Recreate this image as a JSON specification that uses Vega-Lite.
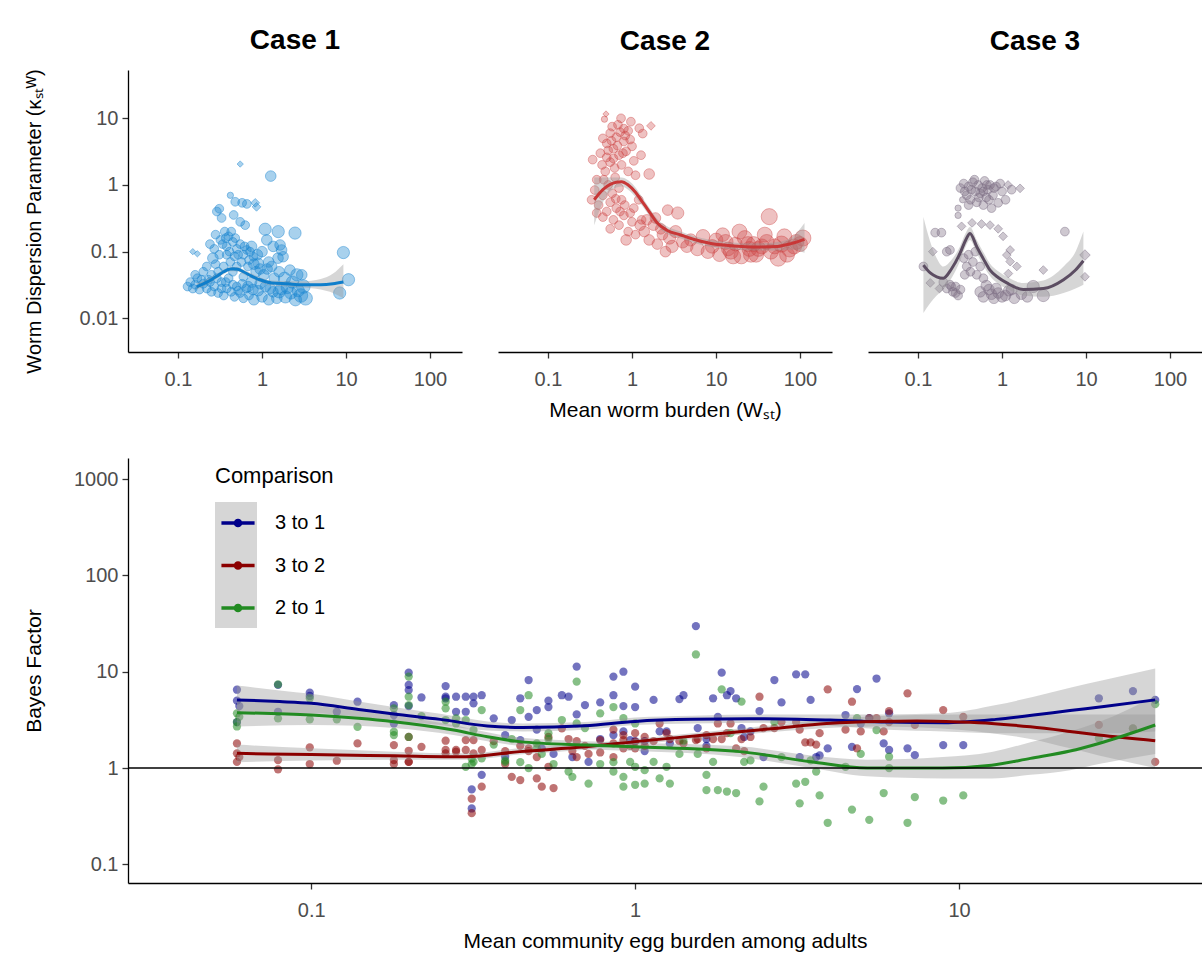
{
"$schema":"https://vega.github.io/schema/vega-lite/v6.json",
"background":"white",
"padding":{"left":23,"top":26,"right":0,"bottom":5},
"config":{
 "font":"Liberation Sans",
 "view":{"stroke":null},
 "axis":{"grid":false,"domainColor":"#000000","domainWidth":1.3,"tickColor":"#333333","tickWidth":1.3,"tickSize":6,"labelColor":"#4D4D4D","labelFontSize":20,"labelFont":"Liberation Sans","titleFont":"Liberation Sans","titleFontSize":21,"titleFontWeight":"normal","titleColor":"#000000"},
 "axisX":{"labelPadding":11,"titlePadding":10},
 "axisY":{"labelPadding":4,"titlePadding":22,"minExtent":62,"maxExtent":62},
 "title":{"fontSize":28,"fontWeight":"bold","color":"#000000","offset":14,"font":"Liberation Sans","frame":"group"}
},
"datasets":{
"case1":[
{"x":0.55,"y":2.06,"pop":1,"grp":"d"},{"x":1.27,"y":1.36,"pop":3,"grp":"c"},{"x":0.42,"y":0.70,"pop":1,"grp":"c"},{"x":0.48,"y":0.56,"pop":2,"grp":"c"},{"x":0.58,"y":0.54,"pop":2,"grp":"c"},{"x":0.66,"y":0.52,"pop":2,"grp":"c"},{"x":0.83,"y":0.54,"pop":2,"grp":"d"},{"x":0.86,"y":0.47,"pop":2,"grp":"d"},{"x":0.29,"y":0.40,"pop":2,"grp":"c"},{"x":0.31,"y":0.44,"pop":2,"grp":"c"},{"x":0.33,"y":0.32,"pop":2,"grp":"c"},{"x":0.46,"y":0.355,"pop":2,"grp":"c"},{"x":0.55,"y":0.28,"pop":2,"grp":"c"},{"x":0.63,"y":0.25,"pop":2,"grp":"c"},{"x":1.09,"y":0.217,"pop":4,"grp":"c"},{"x":1.56,"y":0.20,"pop":4,"grp":"c"},{"x":2.47,"y":0.19,"pop":4,"grp":"c"},{"x":0.15,"y":0.10,"pop":1,"grp":"d"},{"x":0.17,"y":0.093,"pop":1,"grp":"d"},{"x":0.26,"y":0.08,"pop":3,"grp":"c"},{"x":0.24,"y":0.13,"pop":2,"grp":"c"},{"x":0.32,"y":0.15,"pop":2,"grp":"c"},{"x":0.38,"y":0.12,"pop":2,"grp":"c"},{"x":0.36,"y":0.20,"pop":2,"grp":"c"},{"x":0.40,"y":0.17,"pop":2,"grp":"c"},{"x":0.28,"y":0.18,"pop":2,"grp":"c"},{"x":0.45,"y":0.14,"pop":2,"grp":"c"},{"x":0.50,"y":0.11,"pop":2,"grp":"c"},{"x":0.55,"y":0.13,"pop":2,"grp":"c"},{"x":0.66,"y":0.106,"pop":2,"grp":"c"},{"x":0.79,"y":0.084,"pop":2,"grp":"c"},{"x":0.90,"y":0.067,"pop":3,"grp":"c"},{"x":0.60,"y":0.09,"pop":2,"grp":"c"},{"x":0.70,"y":0.075,"pop":2,"grp":"c"},{"x":0.75,"y":0.12,"pop":3,"grp":"c"},{"x":1.14,"y":0.15,"pop":3,"grp":"c"},{"x":1.36,"y":0.12,"pop":3,"grp":"c"},{"x":1.64,"y":0.126,"pop":3,"grp":"c"},{"x":1.71,"y":0.106,"pop":3,"grp":"c"},{"x":1.55,"y":0.08,"pop":3,"grp":"c"},{"x":1.78,"y":0.084,"pop":3,"grp":"c"},{"x":1.00,"y":0.10,"pop":3,"grp":"c"},{"x":1.20,"y":0.07,"pop":3,"grp":"c"},{"x":2.15,"y":0.053,"pop":3,"grp":"c"},{"x":2.60,"y":0.045,"pop":4,"grp":"c"},{"x":2.97,"y":0.045,"pop":3,"grp":"c"},{"x":9.3,"y":0.097,"pop":4,"grp":"c"},{"x":10.7,"y":0.038,"pop":4,"grp":"c"},{"x":8.4,"y":0.024,"pop":4,"grp":"c"},{"x":0.35,"y":0.06,"pop":2,"grp":"c"},{"x":0.42,"y":0.07,"pop":2,"grp":"c"},{"x":0.30,"y":0.05,"pop":2,"grp":"c"},{"x":0.50,"y":0.06,"pop":2,"grp":"c"},{"x":0.25,"y":0.045,"pop":2,"grp":"c"},{"x":0.13,"y":0.030,"pop":2,"grp":"c"},{"x":0.14,"y":0.035,"pop":2,"grp":"c"},{"x":0.15,"y":0.028,"pop":2,"grp":"c"},{"x":0.16,"y":0.032,"pop":2,"grp":"c"},{"x":0.17,"y":0.040,"pop":2,"grp":"c"},{"x":0.18,"y":0.027,"pop":2,"grp":"c"},{"x":0.20,"y":0.033,"pop":2,"grp":"c"},{"x":0.22,"y":0.028,"pop":2,"grp":"c"},{"x":0.23,"y":0.038,"pop":2,"grp":"c"},{"x":0.25,"y":0.025,"pop":2,"grp":"c"},{"x":0.27,"y":0.030,"pop":2,"grp":"c"},{"x":0.30,"y":0.024,"pop":2,"grp":"c"},{"x":0.33,"y":0.035,"pop":2,"grp":"c"},{"x":0.35,"y":0.022,"pop":2,"grp":"c"},{"x":0.38,"y":0.028,"pop":2,"grp":"c"},{"x":0.40,"y":0.040,"pop":2,"grp":"c"},{"x":0.43,"y":0.025,"pop":2,"grp":"c"},{"x":0.47,"y":0.021,"pop":2,"grp":"c"},{"x":0.50,"y":0.030,"pop":2,"grp":"c"},{"x":0.55,"y":0.024,"pop":2,"grp":"c"},{"x":0.60,"y":0.020,"pop":2,"grp":"c"},{"x":0.65,"y":0.028,"pop":2,"grp":"c"},{"x":0.70,"y":0.022,"pop":2,"grp":"c"},{"x":0.75,"y":0.035,"pop":3,"grp":"c"},{"x":0.80,"y":0.019,"pop":3,"grp":"c"},{"x":0.90,"y":0.026,"pop":3,"grp":"c"},{"x":1.00,"y":0.021,"pop":3,"grp":"c"},{"x":1.10,"y":0.030,"pop":3,"grp":"c"},{"x":1.20,"y":0.019,"pop":3,"grp":"c"},{"x":1.35,"y":0.025,"pop":3,"grp":"c"},{"x":1.50,"y":0.020,"pop":3,"grp":"c"},{"x":1.70,"y":0.028,"pop":4,"grp":"c"},{"x":1.90,"y":0.021,"pop":4,"grp":"c"},{"x":2.20,"y":0.024,"pop":4,"grp":"c"},{"x":2.50,"y":0.019,"pop":4,"grp":"c"},{"x":2.90,"y":0.022,"pop":5,"grp":"c"},{"x":3.30,"y":0.020,"pop":5,"grp":"c"},{"x":1.05,"y":0.045,"pop":3,"grp":"c"},{"x":1.40,"y":0.040,"pop":3,"grp":"c"},{"x":0.85,"y":0.050,"pop":3,"grp":"c"},{"x":0.45,"y":0.050,"pop":2,"grp":"c"},{"x":0.20,"y":0.050,"pop":2,"grp":"c"},{"x":0.60,"y":0.042,"pop":2,"grp":"c"},{"x":0.16,"y":0.045,"pop":2,"grp":"c"},{"x":0.28,"y":0.065,"pop":2,"grp":"c"},{"x":0.38,"y":0.09,"pop":2,"grp":"c"},{"x":0.47,"y":0.085,"pop":2,"grp":"c"},
{"x":0.27,"y":0.11,"pop":2,"grp":"c"},{"x":0.31,"y":0.09,"pop":2,"grp":"c"},{"x":0.34,"y":0.13,"pop":2,"grp":"c"},{"x":0.37,"y":0.16,"pop":2,"grp":"c"},{"x":0.41,"y":0.10,"pop":2,"grp":"c"},{"x":0.43,"y":0.20,"pop":2,"grp":"c"},{"x":0.48,"y":0.16,"pop":2,"grp":"c"},{"x":0.52,"y":0.09,"pop":2,"grp":"c"},{"x":0.57,"y":0.07,"pop":2,"grp":"c"},{"x":0.62,"y":0.12,"pop":2,"grp":"c"},{"x":0.68,"y":0.06,"pop":2,"grp":"c"},{"x":0.72,"y":0.10,"pop":2,"grp":"c"},{"x":0.80,"y":0.065,"pop":3,"grp":"c"},{"x":0.88,"y":0.09,"pop":3,"grp":"c"},{"x":0.95,"y":0.055,"pop":3,"grp":"c"},{"x":1.15,"y":0.055,"pop":3,"grp":"c"},{"x":1.30,"y":0.06,"pop":3,"grp":"c"},{"x":1.60,"y":0.05,"pop":3,"grp":"c"},{"x":1.85,"y":0.04,"pop":4,"grp":"c"},{"x":2.30,"y":0.035,"pop":4,"grp":"c"},{"x":0.22,"y":0.06,"pop":2,"grp":"c"},{"x":0.19,"y":0.038,"pop":2,"grp":"c"},{"x":0.24,"y":0.035,"pop":2,"grp":"c"},{"x":0.29,"y":0.04,"pop":2,"grp":"c"},{"x":0.33,"y":0.028,"pop":2,"grp":"c"},{"x":0.37,"y":0.035,"pop":2,"grp":"c"},{"x":0.45,"y":0.032,"pop":2,"grp":"c"},{"x":0.52,"y":0.026,"pop":2,"grp":"c"},{"x":0.58,"y":0.033,"pop":2,"grp":"c"},{"x":0.68,"y":0.030,"pop":3,"grp":"c"},{"x":0.78,"y":0.027,"pop":3,"grp":"c"},{"x":0.95,"y":0.033,"pop":3,"grp":"c"},{"x":1.25,"y":0.028,"pop":3,"grp":"c"},{"x":1.60,"y":0.025,"pop":4,"grp":"c"},{"x":2.00,"y":0.029,"pop":4,"grp":"c"},{"x":2.70,"y":0.026,"pop":4,"grp":"c"},{"x":3.10,"y":0.030,"pop":5,"grp":"c"}
],
"case2":[
{"x":0.49,"y":11.6,"pop":1,"grp":"d"},{"x":0.47,"y":9.7,"pop":1,"grp":"c"},{"x":0.74,"y":10.0,"pop":2,"grp":"c"},{"x":0.97,"y":8.9,"pop":2,"grp":"c"},{"x":1.68,"y":7.7,"pop":2,"grp":"d"},{"x":1.34,"y":5.9,"pop":2,"grp":"c"},{"x":1.22,"y":7.1,"pop":2,"grp":"c"},{"x":0.34,"y":2.4,"pop":2,"grp":"c"},{"x":1.6,"y":1.46,"pop":3,"grp":"c"},{"x":1.28,"y":2.8,"pop":2,"grp":"c"},{"x":0.45,"y":5.0,"pop":2,"grp":"c"},{"x":0.50,"y":4.2,"pop":2,"grp":"c"},{"x":0.55,"y":6.0,"pop":2,"grp":"c"},{"x":0.60,"y":3.5,"pop":2,"grp":"c"},{"x":0.65,"y":5.2,"pop":2,"grp":"c"},{"x":0.70,"y":2.8,"pop":2,"grp":"c"},{"x":0.80,"y":4.5,"pop":2,"grp":"c"},{"x":0.85,"y":3.2,"pop":2,"grp":"c"},{"x":0.90,"y":6.5,"pop":2,"grp":"c"},{"x":1.00,"y":3.8,"pop":2,"grp":"c"},{"x":0.50,"y":2.6,"pop":2,"grp":"c"},{"x":0.55,"y":2.2,"pop":2,"grp":"c"},{"x":0.62,"y":1.8,"pop":2,"grp":"c"},{"x":0.75,"y":2.0,"pop":2,"grp":"c"},{"x":0.90,"y":1.6,"pop":2,"grp":"c"},{"x":1.05,"y":2.3,"pop":2,"grp":"c"},{"x":0.42,"y":3.0,"pop":2,"grp":"c"},{"x":0.48,"y":1.6,"pop":2,"grp":"c"},{"x":1.10,"y":1.4,"pop":2,"grp":"c"},{"x":0.58,"y":7.5,"pop":2,"grp":"c"},{"x":0.68,"y":8.0,"pop":2,"grp":"c"},{"x":0.80,"y":7.0,"pop":2,"grp":"c"},{"x":0.36,"y":0.84,"pop":2,"grp":"c"},{"x":0.33,"y":0.60,"pop":2,"grp":"c"},{"x":0.40,"y":0.50,"pop":2,"grp":"c"},{"x":0.45,"y":0.70,"pop":2,"grp":"c"},{"x":0.50,"y":0.40,"pop":2,"grp":"c"},{"x":0.55,"y":0.55,"pop":2,"grp":"c"},{"x":0.60,"y":0.30,"pop":2,"grp":"c"},{"x":0.65,"y":0.45,"pop":2,"grp":"c"},{"x":0.70,"y":0.25,"pop":2,"grp":"c"},{"x":0.75,"y":0.60,"pop":2,"grp":"c"},{"x":0.80,"y":0.35,"pop":2,"grp":"c"},{"x":0.90,"y":0.20,"pop":2,"grp":"c"},{"x":1.00,"y":0.28,"pop":2,"grp":"c"},{"x":1.10,"y":0.18,"pop":2,"grp":"c"},{"x":0.45,"y":0.33,"pop":2,"grp":"c"},{"x":0.38,"y":0.38,"pop":2,"grp":"c"},{"x":0.55,"y":0.22,"pop":2,"grp":"c"},{"x":0.85,"y":0.15,"pop":3,"grp":"c"},{"x":0.70,"y":0.90,"pop":2,"grp":"c"},{"x":1.20,"y":0.60,"pop":2,"grp":"c"},{"x":1.40,"y":0.20,"pop":3,"grp":"c"},{"x":1.60,"y":0.15,"pop":3,"grp":"c"},{"x":1.80,"y":0.25,"pop":3,"grp":"c"},{"x":2.00,"y":0.13,"pop":3,"grp":"c"},{"x":2.30,"y":0.18,"pop":3,"grp":"c"},{"x":2.66,"y":0.42,"pop":3,"grp":"c"},{"x":3.50,"y":0.38,"pop":4,"grp":"c"},{"x":3.00,"y":0.12,"pop":4,"grp":"c"},{"x":2.50,"y":0.10,"pop":3,"grp":"c"},{"x":4.00,"y":0.14,"pop":4,"grp":"c"},{"x":1.30,"y":0.30,"pop":2,"grp":"c"},{"x":1.90,"y":0.32,"pop":3,"grp":"c"},{"x":5,"y":0.15,"pop":4,"grp":"c"},{"x":6,"y":0.11,"pop":5,"grp":"c"},{"x":7,"y":0.17,"pop":5,"grp":"c"},{"x":9,"y":0.12,"pop":5,"grp":"c"},{"x":11,"y":0.09,"pop":5,"grp":"c"},{"x":13,"y":0.14,"pop":6,"grp":"c"},{"x":15,"y":0.10,"pop":6,"grp":"c"},{"x":17,"y":0.13,"pop":5,"grp":"c"},{"x":20,"y":0.085,"pop":6,"grp":"c"},{"x":22,"y":0.16,"pop":6,"grp":"c"},{"x":25,"y":0.11,"pop":6,"grp":"c"},{"x":28,"y":0.13,"pop":6,"grp":"c"},{"x":30,"y":0.09,"pop":6,"grp":"c"},{"x":35,"y":0.12,"pop":6,"grp":"c"},{"x":43,"y":0.335,"pop":7,"grp":"c"},{"x":45,"y":0.10,"pop":6,"grp":"c"},{"x":55,"y":0.08,"pop":7,"grp":"c"},{"x":60,"y":0.13,"pop":7,"grp":"c"},{"x":75,"y":0.11,"pop":7,"grp":"c"},{"x":90,"y":0.14,"pop":6,"grp":"c"},{"x":108,"y":0.16,"pop":7,"grp":"c"},{"x":12,"y":0.18,"pop":5,"grp":"c"},{"x":19,"y":0.20,"pop":6,"grp":"c"},{"x":38,"y":0.18,"pop":6,"grp":"c"},{"x":65,"y":0.17,"pop":6,"grp":"c"},{"x":0.38,"y":1.2,"pop":2,"grp":"c"},{"x":0.52,"y":1.0,"pop":2,"grp":"c"},{"x":0.63,"y":1.3,"pop":2,"grp":"c"},
{"x":0.44,"y":2.0,"pop":2,"grp":"c"},{"x":0.52,"y":3.3,"pop":2,"grp":"c"},{"x":0.57,"y":4.6,"pop":2,"grp":"c"},{"x":0.60,"y":2.5,"pop":2,"grp":"c"},{"x":0.67,"y":3.9,"pop":2,"grp":"c"},{"x":0.72,"y":6.2,"pop":2,"grp":"c"},{"x":0.78,"y":3.0,"pop":2,"grp":"c"},{"x":0.83,"y":5.5,"pop":2,"grp":"c"},{"x":0.95,"y":4.8,"pop":2,"grp":"c"},{"x":0.46,"y":1.2,"pop":2,"grp":"c"},{"x":0.58,"y":0.75,"pop":2,"grp":"c"},{"x":0.64,"y":0.62,"pop":2,"grp":"c"},{"x":0.72,"y":0.40,"pop":2,"grp":"c"},{"x":0.82,"y":0.50,"pop":2,"grp":"c"},{"x":0.95,"y":0.38,"pop":2,"grp":"c"},{"x":1.05,"y":0.45,"pop":2,"grp":"c"},{"x":1.25,"y":0.25,"pop":3,"grp":"c"},{"x":1.50,"y":0.30,"pop":3,"grp":"c"},{"x":2.20,"y":0.22,"pop":3,"grp":"c"},{"x":2.80,"y":0.16,"pop":4,"grp":"c"},{"x":3.30,"y":0.20,"pop":4,"grp":"c"},{"x":4.50,"y":0.12,"pop":4,"grp":"c"},{"x":8,"y":0.10,"pop":5,"grp":"c"},{"x":10,"y":0.15,"pop":5,"grp":"c"},{"x":14,"y":0.11,"pop":5,"grp":"c"},{"x":16,"y":0.085,"pop":6,"grp":"c"},{"x":24,"y":0.13,"pop":6,"grp":"c"},{"x":26,"y":0.09,"pop":6,"grp":"c"},{"x":32,"y":0.11,"pop":6,"grp":"c"},{"x":40,"y":0.14,"pop":6,"grp":"c"},{"x":50,"y":0.12,"pop":6,"grp":"c"},{"x":70,"y":0.09,"pop":6,"grp":"c"},{"x":85,"y":0.12,"pop":6,"grp":"c"},{"x":100,"y":0.13,"pop":6,"grp":"c"}
],
"case3":[
{"x":0.32,"y":0.90,"pop":2,"grp":"c"},{"x":0.35,"y":1.05,"pop":2,"grp":"c"},{"x":0.38,"y":0.70,"pop":2,"grp":"c"},{"x":0.40,"y":0.95,"pop":2,"grp":"c"},{"x":0.42,"y":0.60,"pop":2,"grp":"c"},{"x":0.45,"y":1.10,"pop":2,"grp":"c"},{"x":0.48,"y":0.80,"pop":2,"grp":"c"},{"x":0.50,"y":0.55,"pop":2,"grp":"c"},{"x":0.52,"y":1.00,"pop":2,"grp":"c"},{"x":0.55,"y":0.75,"pop":2,"grp":"c"},{"x":0.58,"y":0.90,"pop":2,"grp":"c"},{"x":0.62,"y":1.15,"pop":2,"grp":"c"},{"x":0.65,"y":0.65,"pop":2,"grp":"c"},{"x":0.68,"y":0.85,"pop":2,"grp":"c"},{"x":0.72,"y":1.00,"pop":2,"grp":"c"},{"x":0.78,"y":0.70,"pop":2,"grp":"c"},{"x":0.85,"y":0.95,"pop":2,"grp":"c"},{"x":0.90,"y":0.54,"pop":2,"grp":"c"},{"x":1.00,"y":0.80,"pop":2,"grp":"c"},{"x":1.18,"y":1.00,"pop":2,"grp":"d"},{"x":1.30,"y":0.85,"pop":2,"grp":"c"},{"x":1.64,"y":0.89,"pop":2,"grp":"d"},{"x":0.30,"y":0.45,"pop":1,"grp":"c"},{"x":0.34,"y":0.60,"pop":1,"grp":"c"},{"x":0.30,"y":0.35,"pop":1,"grp":"c"},{"x":0.60,"y":0.50,"pop":2,"grp":"c"},{"x":0.75,"y":0.45,"pop":2,"grp":"c"},{"x":1.10,"y":0.60,"pop":2,"grp":"c"},{"x":0.16,"y":0.193,"pop":2,"grp":"c"},{"x":0.19,"y":0.193,"pop":2,"grp":"c"},{"x":0.33,"y":0.24,"pop":2,"grp":"d"},{"x":0.44,"y":0.27,"pop":2,"grp":"d"},{"x":0.57,"y":0.26,"pop":2,"grp":"d"},{"x":0.72,"y":0.25,"pop":2,"grp":"d"},{"x":0.90,"y":0.22,"pop":2,"grp":"d"},{"x":1.03,"y":0.17,"pop":2,"grp":"d"},{"x":5.6,"y":0.20,"pop":2,"grp":"c"},{"x":0.15,"y":0.10,"pop":2,"grp":"d"},{"x":0.22,"y":0.10,"pop":2,"grp":"c"},{"x":0.24,"y":0.106,"pop":2,"grp":"c"},{"x":1.25,"y":0.106,"pop":2,"grp":"d"},{"x":1.14,"y":0.089,"pop":2,"grp":"d"},{"x":1.25,"y":0.071,"pop":2,"grp":"d"},{"x":1.50,"y":0.060,"pop":2,"grp":"d"},{"x":1.19,"y":0.047,"pop":2,"grp":"d"},{"x":3.1,"y":0.053,"pop":2,"grp":"d"},{"x":9.7,"y":0.089,"pop":3,"grp":"d"},{"x":9.7,"y":0.042,"pop":2,"grp":"d"},{"x":0.116,"y":0.06,"pop":2,"grp":"c"},{"x":0.14,"y":0.034,"pop":2,"grp":"d"},{"x":0.18,"y":0.028,"pop":2,"grp":"d"},{"x":0.20,"y":0.035,"pop":2,"grp":"c"},{"x":0.22,"y":0.028,"pop":2,"grp":"c"},{"x":0.24,"y":0.032,"pop":2,"grp":"c"},{"x":0.26,"y":0.025,"pop":2,"grp":"c"},{"x":0.28,"y":0.030,"pop":2,"grp":"c"},{"x":0.30,"y":0.022,"pop":2,"grp":"c"},{"x":0.32,"y":0.027,"pop":2,"grp":"c"},{"x":0.35,"y":0.08,"pop":2,"grp":"c"},{"x":0.38,"y":0.06,"pop":2,"grp":"c"},{"x":0.40,"y":0.09,"pop":2,"grp":"c"},{"x":0.42,"y":0.05,"pop":2,"grp":"c"},{"x":0.45,"y":0.07,"pop":2,"grp":"c"},{"x":0.50,"y":0.045,"pop":2,"grp":"c"},{"x":0.55,"y":0.06,"pop":2,"grp":"c"},{"x":0.60,"y":0.04,"pop":2,"grp":"c"},{"x":0.36,"y":0.045,"pop":2,"grp":"c"},{"x":0.48,"y":0.10,"pop":2,"grp":"c"},{"x":0.55,"y":0.025,"pop":3,"grp":"c"},{"x":0.60,"y":0.021,"pop":3,"grp":"c"},{"x":0.70,"y":0.027,"pop":3,"grp":"c"},{"x":0.80,"y":0.020,"pop":3,"grp":"c"},{"x":0.90,"y":0.024,"pop":3,"grp":"c"},{"x":1.00,"y":0.021,"pop":3,"grp":"c"},{"x":1.20,"y":0.026,"pop":3,"grp":"c"},{"x":1.40,"y":0.020,"pop":3,"grp":"c"},{"x":1.70,"y":0.023,"pop":3,"grp":"c"},{"x":2.00,"y":0.021,"pop":3,"grp":"c"},{"x":2.35,"y":0.030,"pop":4,"grp":"c"},{"x":3.10,"y":0.022,"pop":4,"grp":"c"},{"x":0.65,"y":0.031,"pop":3,"grp":"c"},
{"x":0.36,"y":0.80,"pop":2,"grp":"c"},{"x":0.43,"y":0.85,"pop":2,"grp":"c"},{"x":0.47,"y":1.20,"pop":2,"grp":"c"},{"x":0.53,"y":0.65,"pop":2,"grp":"c"},{"x":0.60,"y":0.80,"pop":2,"grp":"c"},{"x":0.66,"y":1.00,"pop":2,"grp":"c"},{"x":0.70,"y":0.60,"pop":2,"grp":"c"},{"x":0.80,"y":0.90,"pop":2,"grp":"c"},{"x":0.95,"y":1.05,"pop":2,"grp":"c"},{"x":0.40,"y":0.50,"pop":2,"grp":"c"},{"x":0.75,"y":0.023,"pop":3,"grp":"c"},{"x":0.85,"y":0.028,"pop":3,"grp":"c"},{"x":1.10,"y":0.022,"pop":3,"grp":"c"},{"x":1.30,"y":0.027,"pop":3,"grp":"c"},{"x":0.25,"y":0.030,"pop":2,"grp":"c"},{"x":0.28,"y":0.024,"pop":2,"grp":"c"}
],
"fit1":[
{"x":0.167,"fit":0.030,"lo":0.027,"hi":0.034},{"x":0.2,"fit":0.033,"lo":0.030,"hi":0.036},{"x":0.25,"fit":0.038,"lo":0.035,"hi":0.042},{"x":0.3,"fit":0.044,"lo":0.041,"hi":0.048},{"x":0.35,"fit":0.050,"lo":0.046,"hi":0.054},{"x":0.42,"fit":0.055,"lo":0.051,"hi":0.059},{"x":0.5,"fit":0.055,"lo":0.051,"hi":0.059},{"x":0.6,"fit":0.050,"lo":0.046,"hi":0.054},{"x":0.75,"fit":0.043,"lo":0.040,"hi":0.047},{"x":1.0,"fit":0.037,"lo":0.034,"hi":0.040},{"x":1.3,"fit":0.034,"lo":0.031,"hi":0.037},{"x":2,"fit":0.033,"lo":0.030,"hi":0.036},{"x":3,"fit":0.032,"lo":0.029,"hi":0.036},{"x":5,"fit":0.032,"lo":0.027,"hi":0.039},{"x":7,"fit":0.033,"lo":0.024,"hi":0.047},{"x":9.3,"fit":0.035,"lo":0.020,"hi":0.065}
],
"fit2":[
{"x":0.355,"fit":0.60,"lo":0.25,"hi":1.3},{"x":0.45,"fit":0.85,"lo":0.55,"hi":1.3},{"x":0.55,"fit":1.02,"lo":0.8,"hi":1.3},{"x":0.65,"fit":1.1,"lo":0.92,"hi":1.3},{"x":0.75,"fit":1.12,"lo":0.95,"hi":1.3},{"x":0.9,"fit":1.0,"lo":0.85,"hi":1.18},{"x":1.1,"fit":0.78,"lo":0.66,"hi":0.92},{"x":1.3,"fit":0.58,"lo":0.5,"hi":0.68},{"x":1.6,"fit":0.40,"lo":0.35,"hi":0.46},{"x":2.0,"fit":0.27,"lo":0.24,"hi":0.31},{"x":2.6,"fit":0.21,"lo":0.185,"hi":0.24},{"x":3.8,"fit":0.178,"lo":0.158,"hi":0.2},{"x":5.5,"fit":0.152,"lo":0.135,"hi":0.17},{"x":8.7,"fit":0.133,"lo":0.118,"hi":0.15},{"x":14,"fit":0.124,"lo":0.11,"hi":0.14},{"x":22,"fit":0.119,"lo":0.105,"hi":0.134},{"x":35,"fit":0.118,"lo":0.104,"hi":0.134},{"x":54,"fit":0.12,"lo":0.104,"hi":0.14},{"x":80,"fit":0.133,"lo":0.108,"hi":0.165},{"x":113,"fit":0.153,"lo":0.096,"hi":0.27}
],
"fit3":[
{"x":0.116,"fit":0.063,"lo":0.012,"hi":0.33},{"x":0.14,"fit":0.048,"lo":0.017,"hi":0.14},{"x":0.167,"fit":0.042,"lo":0.022,"hi":0.08},{"x":0.2,"fit":0.040,"lo":0.027,"hi":0.06},{"x":0.25,"fit":0.055,"lo":0.04,"hi":0.075},{"x":0.316,"fit":0.094,"lo":0.072,"hi":0.12},{"x":0.37,"fit":0.15,"lo":0.12,"hi":0.19},{"x":0.416,"fit":0.188,"lo":0.15,"hi":0.235},{"x":0.5,"fit":0.119,"lo":0.095,"hi":0.15},{"x":0.6,"fit":0.078,"lo":0.062,"hi":0.098},{"x":0.72,"fit":0.053,"lo":0.043,"hi":0.066},{"x":0.9,"fit":0.041,"lo":0.033,"hi":0.051},{"x":1.14,"fit":0.034,"lo":0.028,"hi":0.042},{"x":1.79,"fit":0.027,"lo":0.022,"hi":0.034},{"x":3.1,"fit":0.028,"lo":0.021,"hi":0.037},{"x":5.4,"fit":0.038,"lo":0.024,"hi":0.06},{"x":7.5,"fit":0.053,"lo":0.028,"hi":0.1},{"x":9.3,"fit":0.073,"lo":0.032,"hi":0.2}
],
"bfits":[
{"comp":"3 to 1","x":0.059,"fit":5.1,"lo":3.6,"hi":7.2},{"comp":"3 to 1","x":0.08,"fit":4.9,"lo":3.7,"hi":6.4},{"comp":"3 to 1","x":0.1,"fit":4.7,"lo":3.7,"hi":5.9},{"comp":"3 to 1","x":0.14,"fit":4.06,"lo":3.4,"hi":4.9},{"comp":"3 to 1","x":0.18,"fit":3.64,"lo":3.1,"hi":4.3},{"comp":"3 to 1","x":0.25,"fit":3.2,"lo":2.8,"hi":3.65},{"comp":"3 to 1","x":0.35,"fit":2.73,"lo":2.45,"hi":3.05},{"comp":"3 to 1","x":0.45,"fit":2.64,"lo":2.4,"hi":2.9},{"comp":"3 to 1","x":0.7,"fit":2.75,"lo":2.5,"hi":3.0},{"comp":"3 to 1","x":1.0,"fit":3.05,"lo":2.8,"hi":3.35},{"comp":"3 to 1","x":1.5,"fit":3.2,"lo":2.9,"hi":3.5},{"comp":"3 to 1","x":2.5,"fit":3.25,"lo":2.95,"hi":3.6},{"comp":"3 to 1","x":4,"fit":3.15,"lo":2.75,"hi":3.6},{"comp":"3 to 1","x":6,"fit":3.0,"lo":2.5,"hi":3.6},{"comp":"3 to 1","x":9,"fit":2.95,"lo":2.4,"hi":3.7},{"comp":"3 to 1","x":13,"fit":3.2,"lo":2.3,"hi":4.5},{"comp":"3 to 1","x":17,"fit":3.55,"lo":2.3,"hi":5.5},{"comp":"3 to 1","x":22,"fit":3.95,"lo":2.3,"hi":6.8},{"comp":"3 to 1","x":28,"fit":4.35,"lo":2.3,"hi":8.2},{"comp":"3 to 1","x":40.3,"fit":5.1,"lo":2.4,"hi":10.8},
{"comp":"3 to 2","x":0.059,"fit":1.42,"lo":1.15,"hi":1.75},{"comp":"3 to 2","x":0.1,"fit":1.38,"lo":1.2,"hi":1.6},{"comp":"3 to 2","x":0.18,"fit":1.34,"lo":1.22,"hi":1.48},{"comp":"3 to 2","x":0.3,"fit":1.31,"lo":1.22,"hi":1.42},{"comp":"3 to 2","x":0.44,"fit":1.48,"lo":1.38,"hi":1.6},{"comp":"3 to 2","x":0.7,"fit":1.66,"lo":1.55,"hi":1.78},{"comp":"3 to 2","x":1.0,"fit":1.88,"lo":1.75,"hi":2.0},{"comp":"3 to 2","x":1.64,"fit":2.2,"lo":2.05,"hi":2.36},{"comp":"3 to 2","x":2.7,"fit":2.58,"lo":2.38,"hi":2.8},{"comp":"3 to 2","x":3.9,"fit":2.9,"lo":2.6,"hi":3.2},{"comp":"3 to 2","x":5.5,"fit":3.05,"lo":2.7,"hi":3.45},{"comp":"3 to 2","x":7.4,"fit":3.07,"lo":2.65,"hi":3.55},{"comp":"3 to 2","x":10,"fit":3.0,"lo":2.5,"hi":3.6},{"comp":"3 to 2","x":12.6,"fit":2.9,"lo":2.3,"hi":3.6},{"comp":"3 to 2","x":16.6,"fit":2.68,"lo":2.0,"hi":3.6},{"comp":"3 to 2","x":22,"fit":2.4,"lo":1.6,"hi":3.6},{"comp":"3 to 2","x":27,"fit":2.2,"lo":1.35,"hi":3.6},{"comp":"3 to 2","x":40.3,"fit":1.92,"lo":1.0,"hi":3.6},
{"comp":"2 to 1","x":0.059,"fit":3.75,"lo":2.7,"hi":5.2},{"comp":"2 to 1","x":0.1,"fit":3.55,"lo":2.8,"hi":4.5},{"comp":"2 to 1","x":0.14,"fit":3.28,"lo":2.75,"hi":3.9},{"comp":"2 to 1","x":0.18,"fit":3.02,"lo":2.6,"hi":3.5},{"comp":"2 to 1","x":0.275,"fit":2.48,"lo":2.2,"hi":2.8},{"comp":"2 to 1","x":0.35,"fit":2.11,"lo":1.9,"hi":2.35},{"comp":"2 to 1","x":0.44,"fit":1.88,"lo":1.7,"hi":2.07},{"comp":"2 to 1","x":0.71,"fit":1.73,"lo":1.57,"hi":1.9},{"comp":"2 to 1","x":1.0,"fit":1.66,"lo":1.5,"hi":1.83},{"comp":"2 to 1","x":2.1,"fit":1.48,"lo":1.3,"hi":1.68},{"comp":"2 to 1","x":3.5,"fit":1.16,"lo":1.0,"hi":1.35},{"comp":"2 to 1","x":5.2,"fit":1.0,"lo":0.82,"hi":1.22},{"comp":"2 to 1","x":8.9,"fit":1.0,"lo":0.78,"hi":1.3},{"comp":"2 to 1","x":12.6,"fit":1.07,"lo":0.78,"hi":1.47},{"comp":"2 to 1","x":16.6,"fit":1.26,"lo":0.85,"hi":1.85},{"comp":"2 to 1","x":22,"fit":1.5,"lo":0.95,"hi":2.4},{"comp":"2 to 1","x":27,"fit":1.8,"lo":1.1,"hi":3.0},{"comp":"2 to 1","x":40.3,"fit":2.8,"lo":1.4,"hi":5.6}
],
"bf":[
{"x":0.059,"comp":"3 to 1","bf":6.5},{"x":0.059,"comp":"3 to 1","bf":5.0},{"x":0.059,"comp":"3 to 1","bf":3.0},{"x":0.06,"comp":"3 to 1","bf":4.4},{"x":0.079,"comp":"3 to 1","bf":7.3},{"x":0.079,"comp":"3 to 1","bf":3.84},{"x":0.099,"comp":"3 to 1","bf":6.05},{"x":0.099,"comp":"3 to 1","bf":5.6},{"x":0.12,"comp":"3 to 1","bf":3.84},{"x":0.139,"comp":"3 to 1","bf":4.88},{"x":0.18,"comp":"3 to 1","bf":4.5},{"x":0.18,"comp":"3 to 1","bf":3.55},{"x":0.18,"comp":"3 to 1","bf":2.9},{"x":0.2,"comp":"3 to 1","bf":9.77},{"x":0.2,"comp":"3 to 1","bf":7.3},{"x":0.2,"comp":"3 to 1","bf":6.45},{"x":0.2,"comp":"3 to 1","bf":4.4},{"x":0.219,"comp":"3 to 1","bf":5.4},{"x":0.26,"comp":"3 to 1","bf":7.1},{"x":0.26,"comp":"3 to 1","bf":5.5},{"x":0.26,"comp":"3 to 1","bf":5.3},{"x":0.28,"comp":"3 to 1","bf":5.5},{"x":0.28,"comp":"3 to 1","bf":3.84},{"x":0.3,"comp":"3 to 1","bf":5.5},{"x":0.3,"comp":"3 to 1","bf":3.84},{"x":0.313,"comp":"3 to 1","bf":0.38},{"x":0.313,"comp":"3 to 1","bf":0.6},{"x":0.317,"comp":"3 to 1","bf":4.7},{"x":0.317,"comp":"3 to 1","bf":5.5},{"x":0.336,"comp":"3 to 1","bf":0.85},{"x":0.336,"comp":"3 to 1","bf":5.7},{"x":0.366,"comp":"3 to 1","bf":3.28},{"x":0.397,"comp":"3 to 1","bf":2.2},{"x":0.397,"comp":"3 to 1","bf":1.31},{"x":0.416,"comp":"3 to 1","bf":3.15},{"x":0.442,"comp":"3 to 1","bf":5.3},{"x":0.442,"comp":"3 to 1","bf":1.95},{"x":0.469,"comp":"3 to 1","bf":8.2},{"x":0.469,"comp":"3 to 1","bf":3.4},{"x":0.497,"comp":"3 to 1","bf":4.0},{"x":0.497,"comp":"3 to 1","bf":2.5},{"x":0.515,"comp":"3 to 1","bf":1.6},{"x":0.54,"comp":"3 to 1","bf":4.3},{"x":0.54,"comp":"3 to 1","bf":5.0},{"x":0.56,"comp":"3 to 1","bf":1.4},{"x":0.594,"comp":"3 to 1","bf":5.7},{"x":0.623,"comp":"3 to 1","bf":5.5},{"x":0.64,"comp":"3 to 1","bf":1.3},{"x":0.66,"comp":"3 to 1","bf":11.3},{"x":0.66,"comp":"3 to 1","bf":3.6},{"x":0.7,"comp":"3 to 1","bf":4.5},{"x":0.718,"comp":"3 to 1","bf":1.16},{"x":0.78,"comp":"3 to 1","bf":4.8},{"x":0.78,"comp":"3 to 1","bf":2.0},{"x":0.857,"comp":"3 to 1","bf":8.9},{"x":0.857,"comp":"3 to 1","bf":5.7},{"x":0.857,"comp":"3 to 1","bf":2.2},{"x":0.92,"comp":"3 to 1","bf":10.0},{"x":0.92,"comp":"3 to 1","bf":4.4},{"x":0.92,"comp":"3 to 1","bf":2.4},{"x":0.965,"comp":"3 to 1","bf":1.95},{"x":1.0,"comp":"3 to 1","bf":7.0},{"x":1.0,"comp":"3 to 1","bf":4.3},{"x":1.0,"comp":"3 to 1","bf":1.9},{"x":1.07,"comp":"3 to 1","bf":1.9},{"x":1.07,"comp":"3 to 1","bf":1.5},{"x":1.14,"comp":"3 to 1","bf":5.1},{"x":1.19,"comp":"3 to 1","bf":2.4},{"x":1.25,"comp":"3 to 1","bf":2.4},{"x":1.28,"comp":"3 to 1","bf":1.8},{"x":1.37,"comp":"3 to 1","bf":5.2},{"x":1.41,"comp":"3 to 1","bf":5.7},{"x":1.54,"comp":"3 to 1","bf":29.8},{"x":1.56,"comp":"3 to 1","bf":2.6},{"x":1.66,"comp":"3 to 1","bf":1.7},{"x":1.66,"comp":"3 to 1","bf":2.0},{"x":1.74,"comp":"3 to 1","bf":5.3},{"x":1.8,"comp":"3 to 1","bf":3.4},{"x":1.85,"comp":"3 to 1","bf":9.77},{"x":1.92,"comp":"3 to 1","bf":5.7},{"x":1.97,"comp":"3 to 1","bf":6.3},{"x":2.05,"comp":"3 to 1","bf":5.3},{"x":2.13,"comp":"3 to 1","bf":2.6},{"x":2.17,"comp":"3 to 1","bf":2.1},{"x":2.27,"comp":"3 to 1","bf":2.4},{"x":2.42,"comp":"3 to 1","bf":3.9},{"x":2.49,"comp":"3 to 1","bf":1.3},{"x":2.69,"comp":"3 to 1","bf":8.2},{"x":2.83,"comp":"3 to 1","bf":4.8},{"x":3.14,"comp":"3 to 1","bf":9.4},{"x":3.22,"comp":"3 to 1","bf":1.3},{"x":3.35,"comp":"3 to 1","bf":9.4},{"x":3.48,"comp":"3 to 1","bf":5.1},{"x":3.62,"comp":"3 to 1","bf":1.3},{"x":3.71,"comp":"3 to 1","bf":1.35},{"x":3.93,"comp":"3 to 1","bf":1.6},{"x":4.46,"comp":"3 to 1","bf":3.55},{"x":4.67,"comp":"3 to 1","bf":1.66},{"x":4.84,"comp":"3 to 1","bf":6.6},{"x":4.97,"comp":"3 to 1","bf":2.9},{"x":5.28,"comp":"3 to 1","bf":3.3},{"x":5.56,"comp":"3 to 1","bf":8.5},{"x":5.85,"comp":"3 to 1","bf":1.8},{"x":6.08,"comp":"3 to 1","bf":3.7},{"x":6.08,"comp":"3 to 1","bf":1.54},{"x":6.93,"comp":"3 to 1","bf":1.6},{"x":7.3,"comp":"3 to 1","bf":1.36},{"x":8.93,"comp":"3 to 1","bf":1.73},{"x":10.3,"comp":"3 to 1","bf":1.73},{"x":27.0,"comp":"3 to 1","bf":5.3},{"x":34.4,"comp":"3 to 1","bf":6.3},{"x":40.3,"comp":"3 to 1","bf":5.1},
{"x":0.059,"comp":"3 to 2","bf":1.8},{"x":0.059,"comp":"3 to 2","bf":1.42},{"x":0.059,"comp":"3 to 2","bf":1.16},{"x":0.06,"comp":"3 to 2","bf":1.3},{"x":0.079,"comp":"3 to 2","bf":0.97},{"x":0.079,"comp":"3 to 2","bf":1.21},{"x":0.099,"comp":"3 to 2","bf":1.1},{"x":0.099,"comp":"3 to 2","bf":1.64},{"x":0.12,"comp":"3 to 2","bf":1.19},{"x":0.139,"comp":"3 to 2","bf":1.8},{"x":0.18,"comp":"3 to 2","bf":1.1},{"x":0.18,"comp":"3 to 2","bf":1.73},{"x":0.18,"comp":"3 to 2","bf":1.21},{"x":0.2,"comp":"3 to 2","bf":1.16},{"x":0.2,"comp":"3 to 2","bf":1.51},{"x":0.2,"comp":"3 to 2","bf":1.16},{"x":0.2,"comp":"3 to 2","bf":2.1},{"x":0.219,"comp":"3 to 2","bf":1.66},{"x":0.26,"comp":"3 to 2","bf":1.42},{"x":0.26,"comp":"3 to 2","bf":1.54},{"x":0.26,"comp":"3 to 2","bf":1.92},{"x":0.28,"comp":"3 to 2","bf":1.54},{"x":0.28,"comp":"3 to 2","bf":1.48},{"x":0.3,"comp":"3 to 2","bf":1.54},{"x":0.3,"comp":"3 to 2","bf":1.95},{"x":0.313,"comp":"3 to 2","bf":0.34},{"x":0.313,"comp":"3 to 2","bf":0.48},{"x":0.317,"comp":"3 to 2","bf":1.42},{"x":0.317,"comp":"3 to 2","bf":1.95},{"x":0.336,"comp":"3 to 2","bf":0.64},{"x":0.336,"comp":"3 to 2","bf":1.54},{"x":0.366,"comp":"3 to 2","bf":1.9},{"x":0.397,"comp":"3 to 2","bf":1.5},{"x":0.397,"comp":"3 to 2","bf":1.1},{"x":0.416,"comp":"3 to 2","bf":0.81},{"x":0.442,"comp":"3 to 2","bf":0.75},{"x":0.442,"comp":"3 to 2","bf":1.7},{"x":0.469,"comp":"3 to 2","bf":1.5},{"x":0.469,"comp":"3 to 2","bf":1.6},{"x":0.497,"comp":"3 to 2","bf":0.78},{"x":0.497,"comp":"3 to 2","bf":1.3},{"x":0.515,"comp":"3 to 2","bf":0.64},{"x":0.54,"comp":"3 to 2","bf":1.03},{"x":0.54,"comp":"3 to 2","bf":2.1},{"x":0.56,"comp":"3 to 2","bf":0.62},{"x":0.594,"comp":"3 to 2","bf":2.58},{"x":0.623,"comp":"3 to 2","bf":2.0},{"x":0.64,"comp":"3 to 2","bf":1.5},{"x":0.66,"comp":"3 to 2","bf":1.9},{"x":0.66,"comp":"3 to 2","bf":1.3},{"x":0.7,"comp":"3 to 2","bf":1.7},{"x":0.718,"comp":"3 to 2","bf":1.4},{"x":0.78,"comp":"3 to 2","bf":1.95},{"x":0.78,"comp":"3 to 2","bf":1.45},{"x":0.857,"comp":"3 to 2","bf":1.8},{"x":0.857,"comp":"3 to 2","bf":2.5},{"x":0.857,"comp":"3 to 2","bf":1.3},{"x":0.92,"comp":"3 to 2","bf":1.95},{"x":0.92,"comp":"3 to 2","bf":1.6},{"x":0.92,"comp":"3 to 2","bf":2.2},{"x":0.965,"comp":"3 to 2","bf":1.7},{"x":1.0,"comp":"3 to 2","bf":1.88},{"x":1.0,"comp":"3 to 2","bf":2.3},{"x":1.0,"comp":"3 to 2","bf":1.6},{"x":1.07,"comp":"3 to 2","bf":2.1},{"x":1.07,"comp":"3 to 2","bf":1.7},{"x":1.14,"comp":"3 to 2","bf":1.9},{"x":1.19,"comp":"3 to 2","bf":2.9},{"x":1.25,"comp":"3 to 2","bf":2.3},{"x":1.28,"comp":"3 to 2","bf":2.0},{"x":1.37,"comp":"3 to 2","bf":1.9},{"x":1.41,"comp":"3 to 2","bf":1.8},{"x":1.54,"comp":"3 to 2","bf":1.95},{"x":1.56,"comp":"3 to 2","bf":2.0},{"x":1.66,"comp":"3 to 2","bf":2.2},{"x":1.66,"comp":"3 to 2","bf":1.6},{"x":1.74,"comp":"3 to 2","bf":2.0},{"x":1.8,"comp":"3 to 2","bf":2.9},{"x":1.85,"comp":"3 to 2","bf":2.0},{"x":1.92,"comp":"3 to 2","bf":2.3},{"x":1.97,"comp":"3 to 2","bf":2.9},{"x":2.05,"comp":"3 to 2","bf":1.6},{"x":2.13,"comp":"3 to 2","bf":2.0},{"x":2.17,"comp":"3 to 2","bf":1.5},{"x":2.27,"comp":"3 to 2","bf":2.1},{"x":2.42,"comp":"3 to 2","bf":5.5},{"x":2.49,"comp":"3 to 2","bf":2.6},{"x":2.69,"comp":"3 to 2","bf":2.6},{"x":2.83,"comp":"3 to 2","bf":3.0},{"x":3.14,"comp":"3 to 2","bf":3.0},{"x":3.22,"comp":"3 to 2","bf":2.5},{"x":3.35,"comp":"3 to 2","bf":1.85},{"x":3.48,"comp":"3 to 2","bf":1.85},{"x":3.62,"comp":"3 to 2","bf":1.75},{"x":3.71,"comp":"3 to 2","bf":2.3},{"x":3.93,"comp":"3 to 2","bf":6.56},{"x":4.46,"comp":"3 to 2","bf":2.5},{"x":4.67,"comp":"3 to 2","bf":4.88},{"x":4.84,"comp":"3 to 2","bf":1.6},{"x":4.97,"comp":"3 to 2","bf":2.4},{"x":5.28,"comp":"3 to 2","bf":3.3},{"x":5.56,"comp":"3 to 2","bf":3.3},{"x":5.85,"comp":"3 to 2","bf":2.4},{"x":6.08,"comp":"3 to 2","bf":3.9},{"x":6.08,"comp":"3 to 2","bf":3.0},{"x":6.93,"comp":"3 to 2","bf":5.96},{"x":7.3,"comp":"3 to 2","bf":2.8},{"x":8.93,"comp":"3 to 2","bf":4.0},{"x":10.3,"comp":"3 to 2","bf":3.4},{"x":27.0,"comp":"3 to 2","bf":2.8},{"x":34.4,"comp":"3 to 2","bf":2.58},{"x":40.3,"comp":"3 to 2","bf":1.16},
{"x":0.059,"comp":"2 to 1","bf":3.7},{"x":0.059,"comp":"2 to 1","bf":3.0},{"x":0.059,"comp":"2 to 1","bf":2.7},{"x":0.06,"comp":"2 to 1","bf":3.4},{"x":0.079,"comp":"2 to 1","bf":7.4},{"x":0.079,"comp":"2 to 1","bf":3.28},{"x":0.099,"comp":"2 to 1","bf":5.3},{"x":0.099,"comp":"2 to 1","bf":3.2},{"x":0.12,"comp":"2 to 1","bf":3.2},{"x":0.139,"comp":"2 to 1","bf":2.68},{"x":0.18,"comp":"2 to 1","bf":4.17},{"x":0.18,"comp":"2 to 1","bf":2.2},{"x":0.18,"comp":"2 to 1","bf":2.38},{"x":0.2,"comp":"2 to 1","bf":8.9},{"x":0.2,"comp":"2 to 1","bf":4.5},{"x":0.2,"comp":"2 to 1","bf":5.5},{"x":0.2,"comp":"2 to 1","bf":2.1},{"x":0.219,"comp":"2 to 1","bf":3.46},{"x":0.26,"comp":"2 to 1","bf":4.88},{"x":0.26,"comp":"2 to 1","bf":4.17},{"x":0.26,"comp":"2 to 1","bf":3.15},{"x":0.28,"comp":"2 to 1","bf":3.28},{"x":0.28,"comp":"2 to 1","bf":2.9},{"x":0.3,"comp":"2 to 1","bf":3.15},{"x":0.3,"comp":"2 to 1","bf":1.03},{"x":0.313,"comp":"2 to 1","bf":1.1},{"x":0.313,"comp":"2 to 1","bf":1.25},{"x":0.317,"comp":"2 to 1","bf":2.48},{"x":0.317,"comp":"2 to 1","bf":1.16},{"x":0.336,"comp":"2 to 1","bf":1.26},{"x":0.336,"comp":"2 to 1","bf":4.0},{"x":0.366,"comp":"2 to 1","bf":1.75},{"x":0.397,"comp":"2 to 1","bf":1.2},{"x":0.397,"comp":"2 to 1","bf":1.16},{"x":0.416,"comp":"2 to 1","bf":2.0},{"x":0.442,"comp":"2 to 1","bf":4.0},{"x":0.442,"comp":"2 to 1","bf":1.15},{"x":0.469,"comp":"2 to 1","bf":5.7},{"x":0.469,"comp":"2 to 1","bf":1.0},{"x":0.497,"comp":"2 to 1","bf":1.6},{"x":0.497,"comp":"2 to 1","bf":1.8},{"x":0.515,"comp":"2 to 1","bf":1.4},{"x":0.54,"comp":"2 to 1","bf":2.3},{"x":0.54,"comp":"2 to 1","bf":2.0},{"x":0.56,"comp":"2 to 1","bf":1.1},{"x":0.594,"comp":"2 to 1","bf":3.15},{"x":0.623,"comp":"2 to 1","bf":0.92},{"x":0.64,"comp":"2 to 1","bf":0.81},{"x":0.66,"comp":"2 to 1","bf":7.9},{"x":0.66,"comp":"2 to 1","bf":2.9},{"x":0.7,"comp":"2 to 1","bf":2.6},{"x":0.718,"comp":"2 to 1","bf":0.69},{"x":0.78,"comp":"2 to 1","bf":3.7},{"x":0.78,"comp":"2 to 1","bf":1.1},{"x":0.857,"comp":"2 to 1","bf":4.3},{"x":0.857,"comp":"2 to 1","bf":1.15},{"x":0.857,"comp":"2 to 1","bf":0.92},{"x":0.92,"comp":"2 to 1","bf":3.3},{"x":0.92,"comp":"2 to 1","bf":0.81},{"x":0.92,"comp":"2 to 1","bf":0.64},{"x":0.965,"comp":"2 to 1","bf":1.16},{"x":1.0,"comp":"2 to 1","bf":2.9},{"x":1.0,"comp":"2 to 1","bf":1.03},{"x":1.0,"comp":"2 to 1","bf":0.67},{"x":1.07,"comp":"2 to 1","bf":0.69},{"x":1.07,"comp":"2 to 1","bf":0.95},{"x":1.14,"comp":"2 to 1","bf":1.16},{"x":1.19,"comp":"2 to 1","bf":0.78},{"x":1.25,"comp":"2 to 1","bf":1.03},{"x":1.28,"comp":"2 to 1","bf":0.69},{"x":1.37,"comp":"2 to 1","bf":1.4},{"x":1.41,"comp":"2 to 1","bf":1.9},{"x":1.54,"comp":"2 to 1","bf":15.1},{"x":1.56,"comp":"2 to 1","bf":1.4},{"x":1.66,"comp":"2 to 1","bf":0.85},{"x":1.66,"comp":"2 to 1","bf":0.59},{"x":1.74,"comp":"2 to 1","bf":1.16},{"x":1.8,"comp":"2 to 1","bf":0.59},{"x":1.85,"comp":"2 to 1","bf":6.56},{"x":1.92,"comp":"2 to 1","bf":0.57},{"x":1.97,"comp":"2 to 1","bf":2.3},{"x":2.05,"comp":"2 to 1","bf":0.55},{"x":2.13,"comp":"2 to 1","bf":4.9},{"x":2.17,"comp":"2 to 1","bf":1.16},{"x":2.27,"comp":"2 to 1","bf":1.2},{"x":2.42,"comp":"2 to 1","bf":0.45},{"x":2.49,"comp":"2 to 1","bf":0.64},{"x":2.69,"comp":"2 to 1","bf":3.0},{"x":2.83,"comp":"2 to 1","bf":1.3},{"x":3.14,"comp":"2 to 1","bf":0.69},{"x":3.22,"comp":"2 to 1","bf":0.43},{"x":3.35,"comp":"2 to 1","bf":0.72},{"x":3.48,"comp":"2 to 1","bf":1.2},{"x":3.62,"comp":"2 to 1","bf":0.92},{"x":3.71,"comp":"2 to 1","bf":0.52},{"x":3.93,"comp":"2 to 1","bf":0.27},{"x":4.46,"comp":"2 to 1","bf":1.03},{"x":4.67,"comp":"2 to 1","bf":0.37},{"x":4.84,"comp":"2 to 1","bf":3.3},{"x":4.97,"comp":"2 to 1","bf":1.4},{"x":5.28,"comp":"2 to 1","bf":0.29},{"x":5.56,"comp":"2 to 1","bf":2.48},{"x":5.85,"comp":"2 to 1","bf":0.55},{"x":6.08,"comp":"2 to 1","bf":1.31},{"x":6.08,"comp":"2 to 1","bf":1.0},{"x":6.93,"comp":"2 to 1","bf":0.27},{"x":7.3,"comp":"2 to 1","bf":0.5},{"x":8.93,"comp":"2 to 1","bf":0.46},{"x":10.3,"comp":"2 to 1","bf":0.52},{"x":27.0,"comp":"2 to 1","bf":2.03},{"x":34.4,"comp":"2 to 1","bf":2.58},{"x":40.3,"comp":"2 to 1","bf":4.6}
]
},
"vconcat":[
{"hconcat":[
 {"width":334,"height":282,"title":{"text":"Case 1"},
  "layer":[
   {"data":{"name":"case1"},"mark":{"type":"point","filled":true,"opacity":1,"color":"#1a86d0","fillOpacity":0.38,"stroke":"#1a86d0","strokeOpacity":0.45,"strokeWidth":1},
    "encoding":{
     "x":{"field":"x","type":"quantitative","scale":{"type":"log","domain":[0.0254,240],"nice":false},"axis":{"values":[0.1,1,10,100],"format":"~g"},"title":null},
     "y":{"field":"y","type":"quantitative","scale":{"type":"log","domain":[0.00313,53],"nice":false},"axis":{"values":[0.01,0.1,1,10],"format":"~g","titleFontSize":20,"titleY":151},"title":"Worm Dispersion Parameter (κₛₜᵂ)"},
     "size":{"field":"pop","type":"quantitative","scale":{"domain":[1,7],"range":[40,260]},"legend":null},
     "shape":{"field":"grp","type":"nominal","scale":{"domain":["c","d"],"range":["circle","diamond"]},"legend":null}}},
   {"data":{"name":"fit1"},"mark":{"type":"area","color":"#999999","opacity":0.4,"interpolate":"monotone"},
    "encoding":{
     "x":{"field":"x","type":"quantitative","scale":{"type":"log","domain":[0.0254,240],"nice":false},"axis":{"values":[0.1,1,10,100],"format":"~g"},"title":null},
     "y":{"field":"lo","type":"quantitative","scale":{"type":"log","domain":[0.00313,53],"nice":false},"axis":{"values":[0.01,0.1,1,10],"format":"~g","titleFontSize":20,"titleY":151},"title":"Worm Dispersion Parameter (κₛₜᵂ)"},
     "y2":{"field":"hi"}}},
   {"data":{"name":"fit1"},"mark":{"type":"line","color":"#0f7ecb","strokeWidth":3,"interpolate":"monotone"},
    "encoding":{
     "x":{"field":"x","type":"quantitative","scale":{"type":"log","domain":[0.0254,240],"nice":false},"axis":{"values":[0.1,1,10,100],"format":"~g"},"title":null},
     "y":{"field":"fit","type":"quantitative","scale":{"type":"log","domain":[0.00313,53],"nice":false},"axis":{"values":[0.01,0.1,1,10],"format":"~g","titleFontSize":20,"titleY":151},"title":"Worm Dispersion Parameter (κₛₜᵂ)"}}}
  ]},
 {"width":334,"height":282,"title":{"text":"Case 2"},
  "layer":[
   {"data":{"name":"case2"},"mark":{"type":"point","filled":true,"opacity":1,"color":"#cc4444","fillOpacity":0.33,"stroke":"#cc4444","strokeOpacity":0.4,"strokeWidth":1},
    "encoding":{
     "x":{"field":"x","type":"quantitative","scale":{"type":"log","domain":[0.0254,240],"nice":false},"axis":{"values":[0.1,1,10,100],"format":"~g"},"title":"Mean worm burden (Wₛₜ)"},
     "y":{"field":"y","type":"quantitative","scale":{"type":"log","domain":[0.00313,53],"nice":false},"axis":null},
     "size":{"field":"pop","type":"quantitative","scale":{"domain":[1,7],"range":[40,260]},"legend":null},
     "shape":{"field":"grp","type":"nominal","scale":{"domain":["c","d"],"range":["circle","diamond"]},"legend":null}}},
   {"data":{"name":"fit2"},"mark":{"type":"area","color":"#999999","opacity":0.4,"interpolate":"monotone"},
    "encoding":{
     "x":{"field":"x","type":"quantitative","scale":{"type":"log","domain":[0.0254,240],"nice":false},"axis":{"values":[0.1,1,10,100],"format":"~g"},"title":"Mean worm burden (Wₛₜ)"},
     "y":{"field":"lo","type":"quantitative","scale":{"type":"log","domain":[0.00313,53],"nice":false},"axis":null},
     "y2":{"field":"hi"}}},
   {"data":{"name":"fit2"},"mark":{"type":"line","color":"#c83737","strokeWidth":3,"interpolate":"monotone"},
    "encoding":{
     "x":{"field":"x","type":"quantitative","scale":{"type":"log","domain":[0.0254,240],"nice":false},"axis":{"values":[0.1,1,10,100],"format":"~g"},"title":"Mean worm burden (Wₛₜ)"},
     "y":{"field":"fit","type":"quantitative","scale":{"type":"log","domain":[0.00313,53],"nice":false},"axis":null}}}
  ]},
 {"width":334,"height":282,"title":{"text":"Case 3"},
  "layer":[
   {"data":{"name":"case3"},"mark":{"type":"point","filled":true,"opacity":1,"color":"#7d6f84","fillOpacity":0.38,"stroke":"#7d6f84","strokeOpacity":0.45,"strokeWidth":1},
    "encoding":{
     "x":{"field":"x","type":"quantitative","scale":{"type":"log","domain":[0.0254,240],"nice":false},"axis":{"values":[0.1,1,10,100],"format":"~g"},"title":null},
     "y":{"field":"y","type":"quantitative","scale":{"type":"log","domain":[0.00313,53],"nice":false},"axis":null},
     "size":{"field":"pop","type":"quantitative","scale":{"domain":[1,7],"range":[40,260]},"legend":null},
     "shape":{"field":"grp","type":"nominal","scale":{"domain":["c","d"],"range":["circle","diamond"]},"legend":null}}},
   {"data":{"name":"fit3"},"mark":{"type":"area","color":"#999999","opacity":0.4,"interpolate":"monotone"},
    "encoding":{
     "x":{"field":"x","type":"quantitative","scale":{"type":"log","domain":[0.0254,240],"nice":false},"axis":{"values":[0.1,1,10,100],"format":"~g"},"title":null},
     "y":{"field":"lo","type":"quantitative","scale":{"type":"log","domain":[0.00313,53],"nice":false},"axis":null},
     "y2":{"field":"hi"}}},
   {"data":{"name":"fit3"},"mark":{"type":"line","color":"#5c4d62","strokeWidth":3,"interpolate":"monotone"},
    "encoding":{
     "x":{"field":"x","type":"quantitative","scale":{"type":"log","domain":[0.0254,240],"nice":false},"axis":{"values":[0.1,1,10,100],"format":"~g"},"title":null},
     "y":{"field":"fit","type":"quantitative","scale":{"type":"log","domain":[0.00313,53],"nice":false},"axis":null}}}
  ]}
 ],"spacing":36},
{"width":1074,"height":425,
 "layer":[
  {"data":{"name":"bf"},"mark":{"type":"circle","size":68,"opacity":0.55},
   "encoding":{
    "x":{"field":"x","type":"quantitative","scale":{"type":"log","domain":[0.0272,56.2],"nice":false},"axis":{"values":[0.1,1,10],"format":"~g"},"title":"Mean community egg burden among adults"},
    "y":{"field":"bf","type":"quantitative","scale":{"type":"log","domain":[0.064,1656],"nice":false},"axis":{"values":[0.1,1,10,100,1000],"format":"~g"},"title":"Bayes Factor"},
    "color":{"field":"comp","type":"nominal","scale":{"domain":["3 to 1","3 to 2","2 to 1"],"range":["#00008B","#8B0000","#228B22"]},"legend":null}}},
  {"data":{"name":"bfits"},"mark":{"type":"area","opacity":0.4,"interpolate":"monotone"},
   "encoding":{
    "x":{"field":"x","type":"quantitative","scale":{"type":"log","domain":[0.0272,56.2],"nice":false},"axis":{"values":[0.1,1,10],"format":"~g"},"title":"Mean community egg burden among adults"},
    "y":{"field":"lo","type":"quantitative","scale":{"type":"log","domain":[0.064,1656],"nice":false},"axis":{"values":[0.1,1,10,100,1000],"format":"~g"},"title":"Bayes Factor"},
    "y2":{"field":"hi"},
    "fill":{"field":"comp","type":"nominal","scale":{"range":["#999999"]},
     "legend":{"title":null,"orient":"none","legendX":87,"legendY":432,"symbolType":"square","symbolSize":1764,"symbolStrokeWidth":0,"symbolOpacity":0.4,"rowPadding":0,"labelExpr":"''","labelFontSize":1,"padding":0,"zindex":1}}}},
  {"data":{"name":"bfits"},"mark":{"type":"line","strokeWidth":3,"interpolate":"monotone"},
   "encoding":{
    "x":{"field":"x","type":"quantitative","scale":{"type":"log","domain":[0.0272,56.2],"nice":false},"axis":{"values":[0.1,1,10],"format":"~g"},"title":"Mean community egg burden among adults"},
    "y":{"field":"fit","type":"quantitative","scale":{"type":"log","domain":[0.064,1656],"nice":false},"axis":{"values":[0.1,1,10,100,1000],"format":"~g"},"title":"Bayes Factor"},
    "stroke":{"field":"comp","type":"nominal","sort":["3 to 1","3 to 2","2 to 1"],"scale":{"range":["#00008B","#8B0000","#228B22"]},
     "legend":{"title":"Comparison","orient":"none","legendX":87,"legendY":396,"symbolType":"M-0.78,0L0.78,0M0.12,0A0.12,0.12,0,1,1,-0.12,0A0.12,0.12,0,1,1,0.12,0","symbolSize":1806,"symbolStrokeWidth":3.5,"symbolOpacity":1,"rowPadding":9.5,"labelFontSize":20,"labelOffset":14,"labelColor":"#000000","labelFont":"Liberation Sans","titleFontSize":22,"titleFontWeight":"normal","titleColor":"#000000","titleFont":"Liberation Sans","titlePadding":12,"padding":0,"zindex":2}}}},
  {"data":{"values":[{"y":1}]},"mark":{"type":"rule","color":"#000000","strokeWidth":1.5},
   "encoding":{
    "y":{"field":"y","type":"quantitative","scale":{"type":"log","domain":[0.064,1656],"nice":false},"axis":{"values":[0.1,1,10,100,1000],"format":"~g"},"title":"Bayes Factor"}}}
 ]}
],
"spacing":38
}
